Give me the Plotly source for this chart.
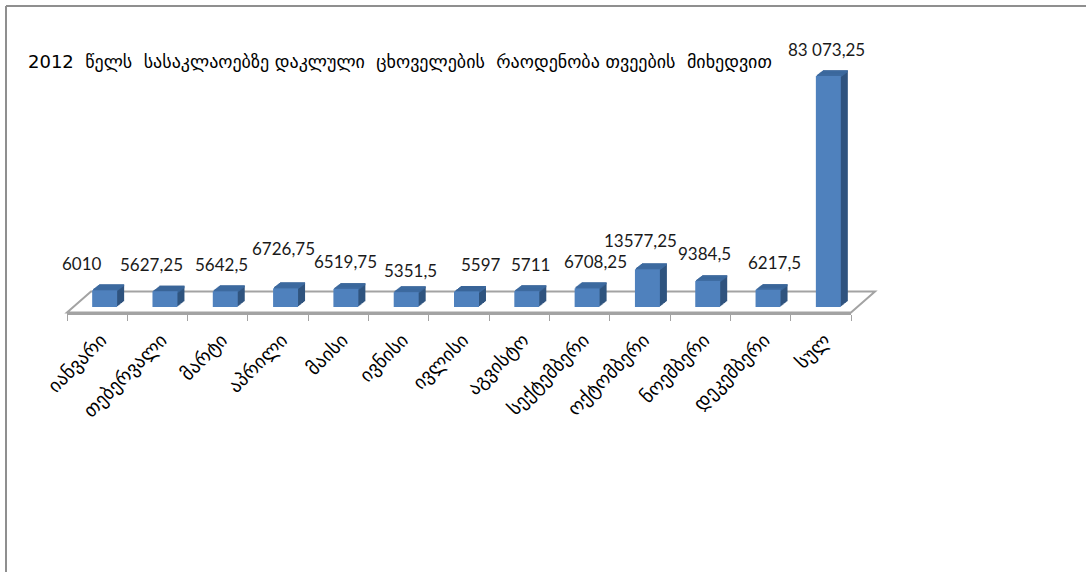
import plotly.graph_objects as go

# 2012 monthly slaughter counts (Georgian labels)
months = ["იანვარი", "თებერვალი", "მარტი", "აპრილი", "მაისი", "ივნისი", "ივლისი",
          "აგვისტო", "სექტემბერი", "ოქტომბერი", "ნოემბერი", "დეკემბერი", "სულ"]
values = [6010, 5627.25, 5642.5, 6726.75, 6519.75, 5351.5, 5597,
          5711, 6708.25, 13577.25, 9384.5, 6217.5, 83073.25]
value_labels = ["6010", "5627,25", "5642,5", "6726,75", "6519,75", "5351,5", "5597",
                "5711", "6708,25", "13577,25", "9384,5", "6217,5", "83 073,25"]
title_text = "2012  წელს  სასაკლაოებზე დაკლული  ცხოველების  რაოდენობა თვეების  მიხედვით"

# excel nudged a few data labels sideways/up to avoid collisions (pixels)
LABEL_NUDGE_X = [-26, -16, -7, -5, -3, 1, 11, 1, 5, -10, -6, 3, -5]
LABEL_NUDGE_Y = [0, 0, 0, 13, 0, -5, 0, 0, 0, 2, 0, 0, 0]

FRONT = "#4f81bd"
SIDE  = "#30547f"
TOP   = "#3d6a9f"
FLOOR = "#a3a3a3"
GEO_FONT = "DejaVu Sans"
NUM_FONT = "Lato"

W, H = 1086, 572
def fx(px): return px / W
def fy(py): return 1 - py / H

# pixel geometry of the fake 3d look
FLOOR_X0, FLOOR_X1, FLOOR_Y = 67, 851, 312.5
FLOOR_DX, FLOOR_DY = 24, 21          # floor depth (up-right)
BAR_DX, BAR_DY = 7.5, 5.5            # bar front face offset from floor front
DEPTH_X, DEPTH_Y = 7.0, 5.5          # bar depth
NL = 7                               # number of depth layers
YMAX = 85000
PX_PER_UNIT = 231 / 83073.25
PLOT_H = YMAX * PX_PER_UNIT
CAP = 1.3 / PX_PER_UNIT              # ~1px top face strip per layer

fig = go.Figure()
lay = {}

def ax(i):
    return ("x" if i == 1 else f"x{i}"), ("y" if i == 1 else f"y{i}")

# subplot 1: floor front axis (ticks + month labels)
fig.add_trace(go.Scatter(x=months, y=[0] * len(months), mode="markers",
    marker=dict(opacity=0), hoverinfo="skip", showlegend=False, xaxis="x", yaxis="y"))
lay["xaxis"] = dict(domain=[fx(FLOOR_X0), fx(FLOOR_X1)], range=[-0.5, 12.5], anchor="y",
    showline=True, linecolor=FLOOR, linewidth=2, ticks="outside", tickson="boundaries",
    ticklen=6, tickcolor=FLOOR, tickwidth=1, tickangle=-45, showgrid=False, zeroline=False,
    tickfont=dict(family=GEO_FONT, size=19, color="#000"), ticklabelshift=4,
    ticklabelstandoff=7, automargin=False, fixedrange=True)
lay["yaxis"] = dict(domain=[fy(FLOOR_Y), fy(FLOOR_Y - 100)], range=[0, 1], anchor="x",
    visible=False, automargin=False, fixedrange=True)

# subplots 2..NL+2: depth layers, back to front; last one is the front face
layers = list(range(NL, -1, -1))
for n, k in enumerate(layers):
    i = n + 2
    xa, ya = ax(i)
    x0 = FLOOR_X0 + BAR_DX + k * DEPTH_X / NL
    x1 = FLOOR_X1 + BAR_DX + k * DEPTH_X / NL
    yb = FLOOR_Y - BAR_DY - k * DEPTH_Y / NL
    lay[f"xaxis{i}"] = dict(domain=[fx(x0), fx(x1)], range=[-0.5, 12.5], anchor=ya,
        visible=False, automargin=False, fixedrange=True)
    lay[f"yaxis{i}"] = dict(domain=[fy(yb), fy(yb - PLOT_H)], range=[0, YMAX], anchor=xa,
        visible=False, automargin=False, fixedrange=True)
    if k > 0:
        fig.add_trace(go.Bar(x=months, y=values, marker=dict(color=SIDE, line=dict(width=0)),
            hoverinfo="skip", showlegend=False, xaxis=xa, yaxis=ya))
        fig.add_trace(go.Bar(x=months, y=[CAP] * len(values), base=[v - CAP for v in values],
            marker=dict(color=TOP, line=dict(width=0)), hoverinfo="skip", showlegend=False,
            xaxis=xa, yaxis=ya))
    else:
        front_x, front_y = xa, ya
        fig.add_trace(go.Bar(x=months, y=values, marker=dict(color=FRONT, line=dict(width=0)),
            showlegend=False, xaxis=xa, yaxis=ya,
            hovertemplate="%{x}: %{y}<extra></extra>"))

# value labels above the bars
annotations = []
for m, v, t, nx, ny in zip(months, values, value_labels, LABEL_NUDGE_X, LABEL_NUDGE_Y):
    annotations.append(dict(x=m, y=v, xref=front_x, yref=front_y, text=t, showarrow=False,
        xshift=3 + nx, yshift=27 + ny, yanchor="middle",
        font=dict(family=NUM_FONT, size=17, color="#1a1a1a")))

annotations.append(dict(x=fx(26), y=fy(62), xref="paper", yref="paper", text=title_text,
    showarrow=False, xanchor="left", yanchor="middle",
    font=dict(family=GEO_FONT, size=18, color="#000")))

# floor parallelogram + outer frame
fx0, fx1, fyb = fx(FLOOR_X0), fx(FLOOR_X1), fy(FLOOR_Y)
fdx, fdy = FLOOR_DX / W, FLOOR_DY / H
shapes = [
    dict(type="path", xref="paper", yref="paper", layer="below",
         path=f"M{fx0},{fyb} L{fx1},{fyb} L{fx1 + fdx},{fyb + fdy} L{fx0 + fdx},{fyb + fdy} Z",
         line=dict(color=FLOOR, width=2)),
    dict(type="line", xref="paper", yref="paper", x0=fx(6), x1=1, y0=fy(6), y1=fy(6),
         line=dict(color="#8f8f8f", width=2)),
    dict(type="line", xref="paper", yref="paper", x0=fx(6), x1=fx(6), y0=fy(6), y1=0,
         line=dict(color="#8f8f8f", width=2)),
]

fig.update_layout(
    template="none",
    width=W, height=H, margin=dict(l=0, r=0, t=0, b=0, pad=0, autoexpand=False),
    paper_bgcolor="white", plot_bgcolor="rgba(0,0,0,0)",
    barmode="overlay", bargap=0.586,
    annotations=annotations, shapes=shapes, showlegend=False,
    **lay,
)

# page margin off so the 1086x572 figure fills the window
fig.write_html("out.html", config={"displayModeBar": False},
               post_script="document.body.style.margin='0';")
